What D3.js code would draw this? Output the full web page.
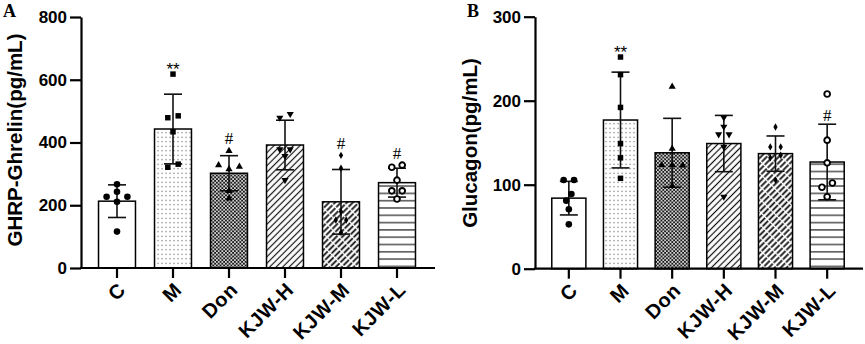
<!DOCTYPE html>
<html>
<head>
<meta charset="utf-8">
<script src="https://cdn.jsdelivr.net/npm/d3@7"></script>
<style>
  body { margin: 0; background: #fff; }
  svg { display: block; }
</style>
</head>
<body>
<script>
// groups on the x axis (same for both panels)
const groups = ["C", "M", "Don", "KJW-H", "KJW-M", "KJW-L"];

// panel A: GHRP-Ghrelin (pg/mL)
const ghrelinMean = [213, 443, 302, 392, 211, 272];
const ghrelinSD = [52, 111, 56, 79, 103, 46];
const ghrelinPoints = [
  [267, 243, 227, 227, 211, 116],
  [618, 485, 479, 434, 331, 321],
  [373, 315, 328, 323, 246, 222],
  [491, 479, 378, 378, 357, 280],
  [359, 318, 179, 153, 153, 113],
  [328, 321, 280, 246, 246, 220]
];
const ghrelinSig = ["", "**", "#", "", "#", "#"];
const ghrelinTicks = [0, 200, 400, 600, 800];

// panel B: Glucagon (pg/mL)
const glucagonMean = [84, 177, 138, 149, 137, 127];
const glucagonSD = [20, 57, 41, 33.5, 21, 45];
const glucagonPoints = [
  [105.6, 105.6, 89, 81, 70.7, 52.8],
  [252, 231, 192, 149, 132, 107.6],
  [216.7, 143, 123.4, 123.4, 123, 98.5],
  [180, 169, 160, 160, 145, 85.7],
  [168.7, 145, 145, 135, 132, 105.6],
  [208, 153, 126, 102, 97, 85.7]
];
const glucagonSig = ["", "**", "", "", "", "#"];
const glucagonTicks = [0, 100, 200, 300];

const font = "'Liberation Sans', Arial, sans-serif";

const svg = d3.select("body").append("svg")
  .attr("width", 865)
  .attr("height", 344);

// fill patterns, one per group
const defs = svg.append("defs");

let p = defs.append("pattern").attr("id", "dots")
  .attr("patternUnits", "userSpaceOnUse").attr("width", 4).attr("height", 4.5);
p.append("rect").attr("width", 4).attr("height", 4.5).attr("fill", "#fff");
p.append("rect").attr("x", 1.5).attr("y", 1.7).attr("width", 1.1).attr("height", 1.1).attr("fill", "#555");

p = defs.append("pattern").attr("id", "checker")
  .attr("patternUnits", "userSpaceOnUse").attr("width", 3.6).attr("height", 3.6);
p.append("rect").attr("width", 3.6).attr("height", 3.6).attr("fill", "#1a1a1a");
p.append("rect").attr("x", 0.1).attr("y", 0.1).attr("width", 1.6).attr("height", 1.6).attr("fill", "#fff");
p.append("rect").attr("x", 1.9).attr("y", 1.9).attr("width", 1.6).attr("height", 1.6).attr("fill", "#fff");

p = defs.append("pattern").attr("id", "diag")
  .attr("patternUnits", "userSpaceOnUse").attr("width", 4.6).attr("height", 4.6)
  .attr("patternTransform", "rotate(45)");
p.append("rect").attr("width", 4.6).attr("height", 4.6).attr("fill", "#fff");
p.append("line").attr("x1", 2.3).attr("y1", 0).attr("x2", 2.3).attr("y2", 4.6)
  .attr("stroke", "#111").attr("stroke-width", 1.2);

p = defs.append("pattern").attr("id", "diagThick")
  .attr("patternUnits", "userSpaceOnUse").attr("width", 4.2).attr("height", 9)
  .attr("patternTransform", "rotate(45)");
p.append("rect").attr("width", 4.2).attr("height", 9).attr("fill", "#fff");
p.append("line").attr("x1", 2.1).attr("y1", 0).attr("x2", 2.1).attr("y2", 7.8)
  .attr("stroke", "#111").attr("stroke-width", 1.8);

p = defs.append("pattern").attr("id", "hlines")
  .attr("patternUnits", "userSpaceOnUse").attr("width", 8).attr("height", 7.3);
p.append("rect").attr("width", 8).attr("height", 7.3).attr("fill", "#fff");
p.append("line").attr("x1", 0).attr("y1", 3.6).attr("x2", 8).attr("y2", 3.6)
  .attr("stroke", "#222").attr("stroke-width", 1.2);

const fills = ["#fff", "url(#dots)", "url(#checker)", "url(#diag)", "url(#diagThick)", "url(#hlines)"];

// marker per group
const markers = [
  { type: d3.symbolCircle, size: 34, rot: 0, open: false },
  { type: d3.symbolSquare, size: 30, rot: 0, open: false },
  { type: d3.symbolTriangle, size: 22, rot: 0, open: false },
  { type: d3.symbolTriangle, size: 22, rot: 180, open: false },
  { type: d3.symbolDiamond, size: 16, rot: 0, open: false },
  { type: d3.symbolCircle, size: 26, rot: 0, open: true }
];

// simple swarm: spread points that would overlap, then centre each cluster
function swarm(vals, y, h, D) {
  const placed = [];
  vals.forEach(v => {
    const py = y(v);
    const cands = [0, -h, h, -2 * h, 2 * h, -3 * h, 3 * h];
    let dx = cands.find(c => placed.every(q => Math.hypot(q.dx - c, q.py - py) >= D));
    if (dx === undefined) dx = 0;
    placed.push({ v: v, py: py, dx: dx });
  });
  const sorted = placed.slice().sort((a, b) => a.py - b.py);
  let comp = [sorted[0]];
  const flush = () => {
    const m = d3.mean(comp, d => d.dx);
    comp.forEach(d => d.dx -= m);
  };
  for (let i = 1; i < sorted.length; i++) {
    if (sorted[i].py - sorted[i - 1].py < D) comp.push(sorted[i]);
    else { flush(); comp = [sorted[i]]; }
  }
  flush();
  return placed;
}

function drawPanel(o) {
  const g = svg.append("g");

  const y = d3.scaleLinear().domain(o.domain).range(o.yRange);
  const x = d3.scaleBand().domain(groups).range(o.xRange)
    .paddingInner(0.34).paddingOuter(0.17);
  const bw = x.bandwidth();

  // bars
  g.selectAll(".bar").data(groups).enter().append("rect")
    .attr("x", d => x(d))
    .attr("y", (d, i) => y(o.mean[i]))
    .attr("width", bw)
    .attr("height", (d, i) => y(0) - y(o.mean[i]))
    .attr("fill", (d, i) => fills[i])
    .attr("stroke", "#000")
    .attr("stroke-width", 1.5);

  // error bars (mean +/- SD)
  const capW = 9;
  groups.forEach((d, i) => {
    const cx = x(d) + bw / 2;
    const hi = y(o.mean[i] + o.sd[i]);
    const lo = y(o.mean[i] - o.sd[i]);
    const eb = g.append("g").attr("stroke", "#111").attr("stroke-width", 1.6);
    eb.append("line").attr("x1", cx).attr("x2", cx).attr("y1", hi).attr("y2", lo);
    eb.append("line").attr("x1", cx - capW).attr("x2", cx + capW).attr("y1", hi).attr("y2", hi);
    eb.append("line").attr("x1", cx - capW).attr("x2", cx + capW).attr("y1", lo).attr("y2", lo);
  });

  // individual points
  groups.forEach((d, i) => {
    const cx = x(d) + bw / 2;
    const mk = markers[i];
    const pts = swarm(o.points[i], y, 5.2, 7.5);
    g.selectAll(null).data(pts).enter().append("path")
      .attr("d", d3.symbol().type(mk.type).size(mk.size))
      .attr("transform", q => "translate(" + (cx + q.dx) + "," + q.py + ") rotate(" + mk.rot + ")")
      .attr("fill", mk.open ? "#fff" : "#000")
      .attr("stroke", "#000")
      .attr("stroke-width", mk.open ? 1.9 : 0);

    // significance mark
    const s = o.sig[i];
    if (s) {
      const cap = y(o.mean[i] + o.sd[i]);
      let top = cap;
      o.points[i].forEach(v => {
        const py = y(v);
        if (py < top + 3.5 && cap - py < 25) top = Math.min(top, py - 3.5);
      });
      const star = s === "**";
      g.append("text")
        .attr("x", cx)
        .attr("y", star ? top + 4 : top - 3)
        .attr("text-anchor", "middle")
        .style("font-family", star ? font : "'Liberation Serif', serif")
        .style("font-size", "17px")
        .text(s);
    }
  });

  // y axis
  const ya = g.append("g")
    .attr("transform", "translate(" + o.axisX + ",0)")
    .call(d3.axisLeft(y).tickValues(o.ticks).tickSize(11).tickSizeOuter(0).tickPadding(3));
  ya.select(".domain").attr("stroke-width", 2.2);
  ya.selectAll(".tick line").attr("stroke-width", 2.2);
  ya.selectAll(".tick text")
    .style("font-family", font).style("font-size", "17px").style("font-weight", "bold")
    .attr("fill", "#000");

  // x axis
  const xa = g.append("g")
    .attr("transform", "translate(0," + y(0) + ")")
    .call(d3.axisBottom(x).tickSize(10).tickSizeOuter(0));
  xa.select(".domain").remove();
  xa.selectAll(".tick line").attr("stroke-width", 2.2);
  xa.selectAll(".tick text")
    .style("font-family", font).style("font-size", "20px").style("font-weight", "bold")
    .style("letter-spacing", "0.6px")
    .attr("fill", "#000")
    .attr("text-anchor", "end")
    .attr("y", 0).attr("dy", 0)
    .attr("transform", "translate(10,23) rotate(-45)");
  g.append("line")
    .attr("x1", o.axisX - 1).attr("x2", o.axisEnd)
    .attr("y1", y(0)).attr("y2", y(0))
    .attr("stroke", "#000").attr("stroke-width", 2.2);

  // axis title
  g.append("text")
    .attr("transform", "translate(" + o.titleX + "," + o.titleY + ") rotate(-90)")
    .attr("text-anchor", "middle")
    .style("font-family", font).style("font-size", "20.5px").style("font-weight", "bold")
    .text(o.title);

  // panel letter
  g.append("text")
    .attr("x", o.letterX).attr("y", 17)
    .style("font-family", "'Liberation Serif', serif").style("font-size", "18px").style("font-weight", "bold")
    .text(o.letter);
}

drawPanel({
  mean: ghrelinMean, sd: ghrelinSD, points: ghrelinPoints, sig: ghrelinSig,
  ticks: ghrelinTicks, domain: [0, 800], yRange: [268, 17],
  xRange: [89, 425], axisX: 81, axisEnd: 435,
  title: "GHRP-Ghrelin(pg/mL)", titleX: 22, titleY: 140,
  letter: "A", letterX: 3
});

drawPanel({
  mean: glucagonMean, sd: glucagonSD, points: glucagonPoints, sig: glucagonSig,
  ticks: glucagonTicks, domain: [0, 300], yRange: [268.7, 16.7],
  xRange: [543, 853], axisX: 535, axisEnd: 863,
  title: "Glucagon(pg/mL)", titleX: 477, titleY: 143,
  letter: "B", letterX: 467
});
</script>
</body>
</html>
